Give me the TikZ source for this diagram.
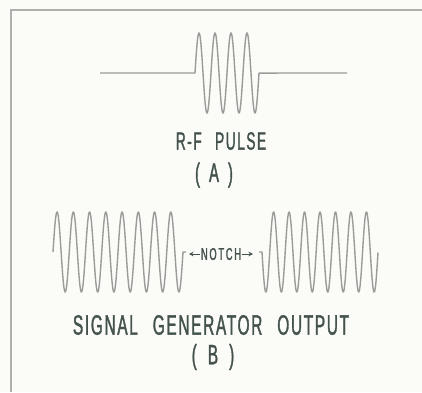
\documentclass[tikz,border=0pt]{standalone}
\usepackage{fontspec}
\usetikzlibrary{arrows.meta}
\newfontfamily\labfont[FakeStretch=0.55,LetterSpace=6,FakeBold=1.2]{Liberation Sans}
\newfontfamily\notchfont[FakeStretch=0.55,LetterSpace=10,FakeBold=1.2]{Liberation Sans}
\definecolor{bgc}{HTML}{FBFCF8}
\definecolor{linec}{HTML}{9A9C9A}
\definecolor{txtc}{HTML}{44524D}
\tikzset{
  wave/.style={draw=linec,line width=1.4pt,line join=round},
  frame/.style={draw=linec!80,line width=1.3pt},
  lab/.style={inner sep=0pt,text=txtc,font=\labfont},
  notcharrow/.style={draw=txtc,line width=1pt,-{Stealth[length=4.5pt,width=4.5pt]}}
}
\begin{document}
\begin{tikzpicture}[x=1pt,y=-1pt]
\fill[bgc] (0,0) rectangle (422,392);
\useasboundingbox (0,0) rectangle (422,392);
\draw[frame] (11,392) -- (11,10) -- (422,10);
% (A) pulse
\draw[wave] (100,73) -- (195,73)
  -- plot[domain=195:259,samples=300] (\x,{73-40*sin(22.5*(\x-195))})
  -- (347,73);
\node[lab,font=\labfont\fontsize{25}{25}\selectfont] (ta) at (221,141) {R-F\hspace{8pt} PULSE};
\node[lab,font=\labfont\fontsize{27}{27}\selectfont] (pa) at (214,175) {(\hspace{9pt}A\hspace{9pt})};
% (B) signal generator output
\coordinate (lend) at (186,252);
\coordinate (rstart) at (259,252);
\draw[wave] plot[domain=53:183,samples=500] (\x,{252-40*sin(22.1538*(\x-53))}) -- (lend);
\draw[wave] (rstart) -- plot[domain=262:378,samples=500] (\x,{252+40*sin(23.271*(\x-262))});
\node[lab,font=\notchfont\fontsize{17}{17}\selectfont] (notch) at (221,254) {NOTCH};
\coordinate (al) at (189,254);
\coordinate (ar) at (253,254);
\draw[notcharrow] (notch.west) ++(-1,0) -- (al);
\draw[notcharrow] (notch.east) ++(1,0) -- (ar);
\node[lab,font=\labfont\fontsize{28}{28}\selectfont] (tb) at (211,325) {SIGNAL\hspace{9pt} GENERATOR\hspace{9pt} OUTPUT};
\node[lab,font=\labfont\fontsize{28}{28}\selectfont] (pb) at (213,357) {(\hspace{11pt}B\hspace{11pt})};
\end{tikzpicture}
\end{document}
